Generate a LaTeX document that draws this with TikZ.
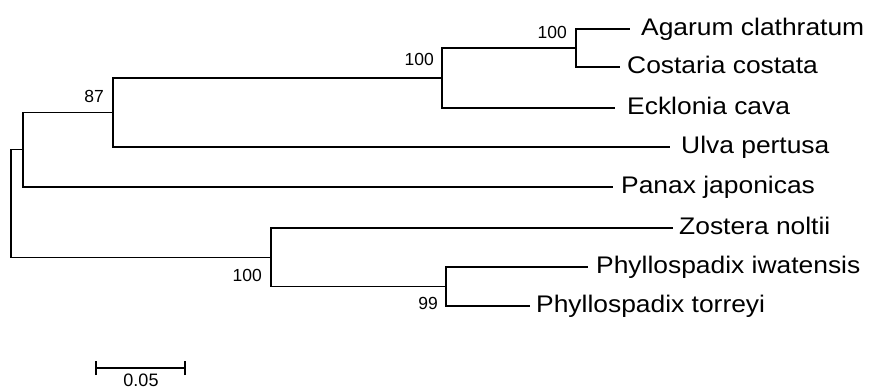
\documentclass[tikz,border=0pt]{standalone}
\usepackage{fontspec}
\setmainfont{Liberation Sans}
\newfontfamily\leaffont[FakeStretch=1.1]{Liberation Sans}
\newfontfamily\suppfont{Liberation Sans}
\begin{document}
\begin{tikzpicture}[x=1pt,y=-1pt,
  branch/.style={line width=1.3pt, line join=miter},
  leaflab/.style={anchor=base west, inner sep=0pt, font=\leaffont\fontsize{24}{24}\selectfont},
  supp/.style={anchor=base east, inner sep=0pt, font=\suppfont\fontsize{17.5}{17.5}\selectfont},
  scalelab/.style={anchor=base, inner sep=0pt, font=\suppfont\fontsize{18}{18}\selectfont}]
\useasboundingbox (0,0) rectangle (869,389);
% internal nodes
\coordinate (R) at (11,202.5);
\coordinate (A) at (23,149.5);
\coordinate (N87) at (113,112.5);
\coordinate (K) at (442,78);
\coordinate (AC) at (576,48);
\coordinate (S) at (271,257.5);
\coordinate (P) at (446,286.5);
% leaf ends
\coordinate (LAg) at (630,29);
\coordinate (LCo) at (620,67);
\coordinate (LEc) at (615,108);
\coordinate (LUl) at (670,147);
\coordinate (LPa) at (613,187);
\coordinate (LZo) at (673,228);
\coordinate (LPi) at (588,267);
\coordinate (LPt) at (530,306);
% branches
\draw[branch] (R) |- (A);
\draw[branch] (R) |- (S);
\draw[branch] (A) |- (N87);
\draw[branch] (A) |- (LPa);
\draw[branch] (N87) |- (K);
\draw[branch] (N87) |- (LUl);
\draw[branch] (K) |- (AC);
\draw[branch] (K) |- (LEc);
\draw[branch] (AC) |- (LAg);
\draw[branch] (AC) |- (LCo);
\draw[branch] (S) |- (LZo);
\draw[branch] (S) |- (P);
\draw[branch] (P) |- (LPi);
\draw[branch] (P) |- (LPt);
% leaf labels
\node[leaflab] (tAg) at (641,35) {Agarum clathratum};
\node[leaflab] (tCo) at (627,73) {Costaria costata};
\node[leaflab] (tEc) at (627,114) {Ecklonia cava};
\node[leaflab] (tUl) at (681,153) {Ulva pertusa};
\node[leaflab] (tPa) at (621,193) {Panax japonicas};
\node[leaflab] (tZo) at (679,234) {Zostera noltii};
\node[leaflab] (tPi) at (596,273) {Phyllospadix iwatensis};
\node[leaflab] (tPt) at (536,312) {Phyllospadix torreyi};
% support values
\node[supp] (s87) at (104,102) {87};
\node[supp] (sK) at (434,65) {100};
\node[supp] (sAC) at (567,38) {100};
\node[supp] (sS) at (262,281) {100};
\node[supp] (sP) at (438,309) {99};
% scale bar
\coordinate (B1) at (96,368);
\coordinate (B2) at (185,368);
\draw[branch] (B1) -- (B2);
\draw[branch] ([yshift=-7pt]B1) -- ([yshift=7pt]B1);
\draw[branch] ([yshift=-7pt]B2) -- ([yshift=7pt]B2);
\node[scalelab] (sb) at (141,386) {0.05};
\end{tikzpicture}
\end{document}
